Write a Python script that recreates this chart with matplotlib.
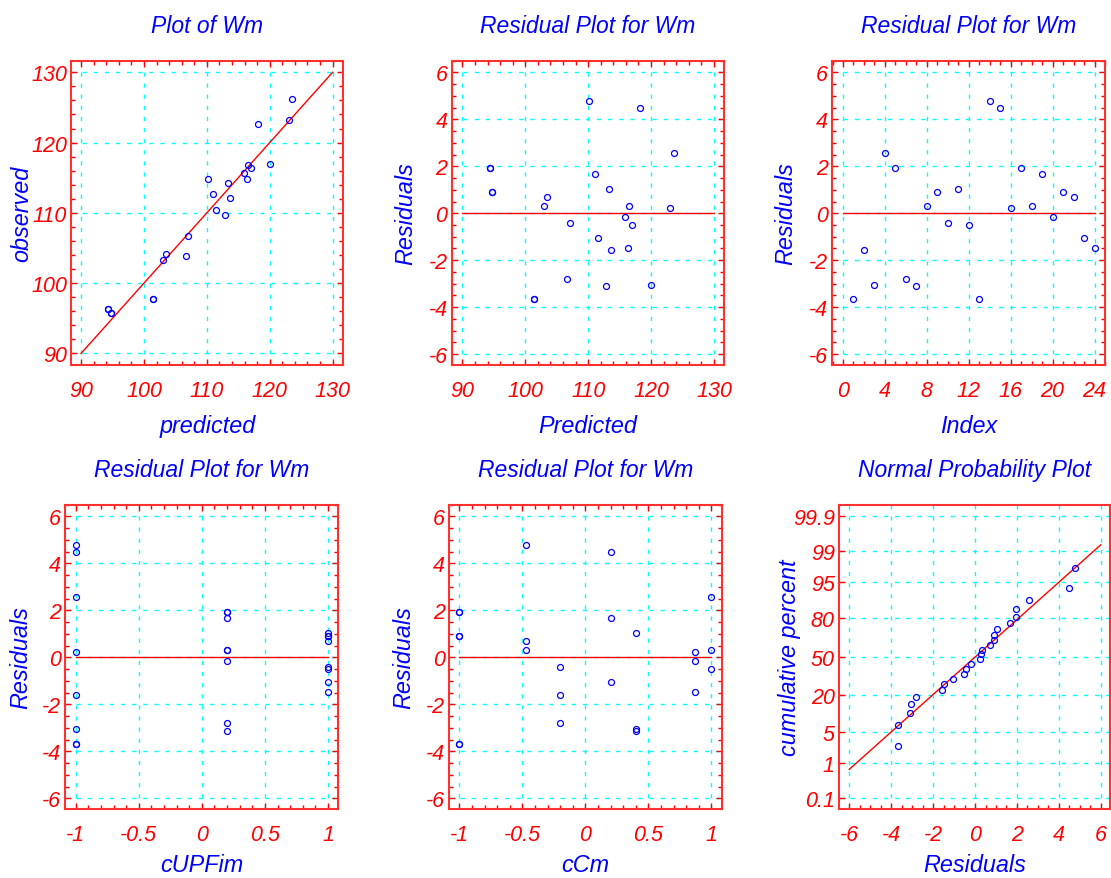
import matplotlib
matplotlib.use('Agg')
import matplotlib.pyplot as plt
from matplotlib.ticker import MultipleLocator, FixedLocator
from statistics import NormalDist

# 24 runs, in run order
index = list(range(1, 25))
predicted = [101.46, 113.71, 119.97, 123.58, 94.35, 106.66, 112.81, 116.53,
             94.77, 107.08, 113.29, 116.95, 101.46, 110.11, 118.17, 123.00,
             94.35, 103.05, 111.06, 115.89, 94.77, 103.47, 111.49, 116.31]
observed = [97.79, 112.13, 116.91, 126.14, 96.30, 103.86, 109.70, 116.86,
            95.69, 106.67, 114.32, 116.44, 97.79, 114.89, 122.65, 123.24,
            96.30, 103.35, 112.74, 115.72, 95.69, 104.18, 110.44, 114.82]
residuals = [-3.67, -1.58, -3.06, 2.56, 1.95, -2.80, -3.11, 0.33,
             0.92, -0.41, 1.03, -0.51, -3.67, 4.78, 4.48, 0.24,
             1.95, 0.30, 1.68, -0.17, 0.92, 0.71, -1.05, -1.49]
cUPFim = [-1, -1, -1, -1, 0.2, 0.2, 0.2, 0.2, 1, 1, 1, 1,
          -1, -1, -1, -1, 0.2, 0.2, 0.2, 0.2, 1, 1, 1, 1]
cCm = [-1, -0.2, 0.4, 1, -1, -0.2, 0.4, 1, -1, -0.2, 0.4, 1,
       -1, -0.47, 0.2, 0.87, -1, -0.47, 0.2, 0.87, -1, -0.47, 0.2, 0.87]

# normal probability plot: cumulative percent of the sorted residuals
normal_pct = [2.6, 6.7, 10.8, 15.0, 19.1, 23.2, 27.3, 31.4, 35.6, 39.7, 43.8, 47.9,
              52.1, 56.2, 60.3, 64.4, 68.6, 72.7, 76.8, 80.9, 85.1, 89.2, 93.3, 97.4]
normal_line_x = [-6, 6]
normal_line_pct = [0.69, 99.29]
prob_ticks = [0.1, 1, 5, 20, 50, 80, 95, 99, 99.9]
prob_labels = ['0.1', '1', '5', '20', '50', '80', '95', '99', '99.9']

# reference line ranges
pred_range = [90, 130]
index_range = [0, 24]
coded_range = [-1, 1]
coded_ticks = [-1, -0.5, 0, 0.5, 1]
coded_labels = ['-1', '-0.5', '0', '0.5', '1']

plt.rcParams['font.family'] = ['Liberation Sans', 'DejaVu Sans']
plt.rcParams['font.style'] = 'italic'
plt.rcParams['axes.unicode_minus'] = False

W, H = 1111, 879
fig = plt.figure(figsize=(W / 100, H / 100), dpi=100)


def px_axes(left, top, right, bottom):
    return fig.add_axes([left / W, 1 - bottom / H, (right - left) / W, (bottom - top) / H])


def style(ax, title, xlabel, ylabel, ylab_x, xlab_px=61, all_sides=True):
    ax.set_title(title, color='blue', fontsize=16.5, pad=21)
    ax.set_xlabel(xlabel, color='blue', fontsize=16.8)
    ax.set_ylabel(ylabel, color='blue', fontsize=16.8)
    ax.xaxis.label.set_verticalalignment('center')
    ax.yaxis.label.set_verticalalignment('center')
    bbox_h = ax.get_position().height * H
    ax.xaxis.set_label_coords(0.5, -xlab_px / bbox_h)
    ax.yaxis.set_label_coords(ylab_x, 0.5)
    ax.tick_params(which='both', direction='in', color='red', labelcolor='red',
                   labelsize=15.5, top=all_sides, right=all_sides, width=1)
    ax.tick_params(which='major', length=4.3)
    ax.tick_params(which='minor', length=2.9)
    ax.tick_params(axis='x', pad=11)
    ax.tick_params(axis='y', pad=3)
    for s in ax.spines.values():
        s.set_color('#ff3030')
        s.set_linewidth(1.5)
    ax.grid(True, which='major', color='cyan', linestyle=(0, (3, 5)), linewidth=1)
    ax.set_axisbelow(True)


def resid_y(ax):
    ax.set_ylim(-6.45, 6.5)
    ax.yaxis.set_major_locator(MultipleLocator(2))
    ax.yaxis.set_minor_locator(MultipleLocator(0.5))


mk = dict(linestyle='none', marker='o', mfc='none', mec='blue', ms=4.3, mew=0.9)
ln = dict(color='red', linewidth=1)

# Plot of Wm
ax1 = px_axes(71.3, 61.7, 343.3, 365.7)
ax1.plot(pred_range, pred_range, **ln)
ax1.plot(predicted, observed, **mk)
ax1.set_xlim(88.45, 131.7)
ax1.set_ylim(88.4, 131.65)
for a in (ax1.xaxis, ax1.yaxis):
    a.set_major_locator(MultipleLocator(10))
    a.set_minor_locator(MultipleLocator(2))
style(ax1, 'Plot of Wm', 'predicted', 'observed', -0.181)

# Residuals vs predicted
ax2 = px_axes(451.7, 61.7, 724, 365.7)
ax2.plot(pred_range, [0, 0], **ln)
ax2.plot(predicted, residuals, **mk)
ax2.set_xlim(88.3, 131.6)
ax2.xaxis.set_major_locator(MultipleLocator(10))
ax2.xaxis.set_minor_locator(MultipleLocator(2))
resid_y(ax2)
style(ax2, 'Residual Plot for Wm', 'Predicted', 'Residuals', -0.168)

# Residuals vs index
ax3 = px_axes(832.3, 61.7, 1105, 365.7)
ax3.plot(index_range, [0, 0], **ln)
ax3.plot(index, residuals, **mk)
ax3.set_xlim(-1.02, 25.0)
ax3.xaxis.set_major_locator(MultipleLocator(4))
ax3.xaxis.set_minor_locator(MultipleLocator(1))
resid_y(ax3)
style(ax3, 'Residual Plot for Wm', 'Index', 'Residuals', -0.170)

# Residuals vs cUPFim
ax4 = px_axes(65.3, 505.7, 338.3, 810)
ax4.plot(coded_range, [0, 0], **ln)
ax4.plot(cUPFim, residuals, **mk)
ax4.set_xlim(-1.083, 1.082)
ax4.xaxis.set_major_locator(FixedLocator(coded_ticks))
ax4.set_xticklabels(coded_labels)
ax4.xaxis.set_minor_locator(MultipleLocator(0.1))
resid_y(ax4)
style(ax4, 'Residual Plot for Wm', 'cUPFim', 'Residuals', -0.164, xlab_px=56)

# Residuals vs cCm
ax5 = px_axes(449.3, 505.7, 721.7, 810)
ax5.plot(coded_range, [0, 0], **ln)
ax5.plot(cCm, residuals, **mk)
ax5.set_xlim(-1.08, 1.082)
ax5.xaxis.set_major_locator(FixedLocator(coded_ticks))
ax5.set_xticklabels(coded_labels)
ax5.xaxis.set_minor_locator(MultipleLocator(0.1))
resid_y(ax5)
style(ax5, 'Residual Plot for Wm', 'cCm', 'Residuals', -0.166, xlab_px=56)

# Normal probability plot (percent axis drawn on the normal-quantile scale)
nd = NormalDist()
z = lambda p: nd.inv_cdf(p / 100)
ax6 = px_axes(839, 505.7, 1110, 810)
ax6.plot(normal_line_x, [z(p) for p in normal_line_pct], **ln)
ax6.plot(sorted(residuals), [z(p) for p in normal_pct], **mk)
ax6.set_xlim(-6.49, 6.44)
ax6.set_ylim(-3.33, 3.33)
ax6.xaxis.set_major_locator(MultipleLocator(2))
ax6.xaxis.set_minor_locator(MultipleLocator(0.5))
ax6.yaxis.set_major_locator(FixedLocator([z(p) for p in prob_ticks]))
ax6.set_yticklabels(prob_labels)
style(ax6, 'Normal Probability Plot', 'Residuals', 'cumulative percent', -0.183,
      xlab_px=56, all_sides=False)

fig.savefig('out.png', dpi=100)
